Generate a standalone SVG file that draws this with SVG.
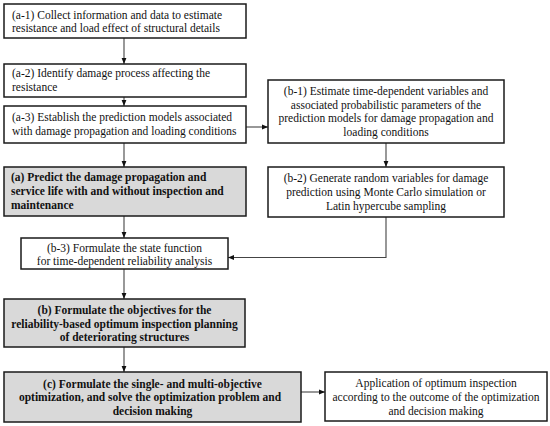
<svg xmlns="http://www.w3.org/2000/svg" width="550" height="426" viewBox="0 0 550 426">
<style>
.box{fill:#fff;stroke:#1a1a1a;stroke-width:1.5}
.gray{fill:#d9d9d9;stroke:#1a1a1a;stroke-width:1.5}
.t text{fill:#111}
.b{font-weight:bold}
.c{text-anchor:middle}
.conn path{fill:none;stroke:#444;stroke-width:1.1}
</style>
<defs>
<marker id="ah" viewBox="0 0 10 10" refX="10" refY="5" markerWidth="6" markerHeight="6" orient="auto" markerUnits="userSpaceOnUse">
<path d="M0,1 L10,5 L0,9 Z" fill="#111"/>
</marker>
</defs>
<rect width="550" height="426" fill="#fff"/>
<g class="conn">
<path d="M124,38 V64" marker-end="url(#ah)"/>
<path d="M124,97 V106" marker-end="url(#ah)"/>
<path d="M246,127 H268" marker-end="url(#ah)"/>
<path d="M386,143 V167" marker-end="url(#ah)"/>
<path d="M124,143 V167" marker-end="url(#ah)"/>
<path d="M124,216 V238" marker-end="url(#ah)"/>
<path d="M386,217 V257.5 H228" marker-end="url(#ah)"/>
<path d="M124,269 V299" marker-end="url(#ah)"/>
<path d="M124,347 V372" marker-end="url(#ah)"/>
<path d="M301,392 H325" marker-end="url(#ah)"/>
</g>
<g class="t" font-family="Liberation Serif, Times New Roman, serif" font-size="11.5">
<g id="a1"><rect class="box" x="4" y="4" width="242" height="34"/>
<text x="12" y="18.5">(a-1) Collect information and data to estimate</text>
<text x="12" y="32">resistance and load effect of structural details</text></g>
<g id="a2"><rect class="box" x="4" y="64" width="242" height="33"/>
<text x="12" y="77">(a-2) Identify damage process affecting the</text>
<text x="12" y="90.5">resistance</text></g>
<g id="a3"><rect class="box" x="4" y="106" width="242" height="37"/>
<text x="12" y="121">(a-3) Establish the prediction models associated</text>
<text x="12" y="135">with damage propagation and loading conditions</text></g>
<g id="b1"><rect class="box" x="268" y="80" width="236" height="63"/>
<text class="c" x="386" y="95">(b-1) Estimate time-dependent variables and</text>
<text class="c" x="386" y="108.5">associated probabilistic parameters of the</text>
<text class="c" x="386" y="122">prediction models for damage propagation and</text>
<text class="c" x="386" y="135.5">loading conditions</text></g>
<g id="b2"><rect class="box" x="268" y="167" width="236" height="50"/>
<text class="c" x="386" y="182">(b-2) Generate random variables for damage</text>
<text class="c" x="386" y="196">prediction using Monte Carlo simulation or</text>
<text class="c" x="386" y="210">Latin hypercube sampling</text></g>
<g id="a"><rect class="gray" x="4" y="167" width="242" height="49"/>
<text class="b" x="11" y="181">(a) Predict the damage propagation and</text>
<text class="b" x="11" y="194.5">service life with and without inspection and</text>
<text class="b" x="11" y="208.5">maintenance</text></g>
<g id="b3"><rect class="box" x="21" y="238" width="207" height="31"/>
<text class="c" x="124.5" y="251.5">(b-3) Formulate the state function</text>
<text class="c" x="124.5" y="264.5">for time-dependent reliability analysis</text></g>
<g id="b"><rect class="gray" x="4" y="299" width="241" height="48"/>
<text class="b c" x="124.5" y="313.5">(b) Formulate the objectives for the</text>
<text class="b c" x="124.5" y="327.5">reliability-based optimum inspection planning</text>
<text class="b c" x="124.5" y="341">of deteriorating structures</text></g>
<g id="c"><rect class="gray" x="4" y="372" width="297" height="50"/>
<text class="b c" x="152.5" y="387.5">(c) Formulate the single- and multi-objective</text>
<text class="b c" x="150" y="401">optimization, and solve the optimization problem and</text>
<text class="b c" x="152.5" y="415">decision making</text></g>
<g id="app"><rect class="box" x="325" y="372" width="222" height="49"/>
<text class="c" x="436" y="387">Application of optimum inspection</text>
<text class="c" x="436" y="401">according to the outcome of the optimization</text>
<text class="c" x="436" y="414.5">and decision making</text></g>
</g>
</svg>
